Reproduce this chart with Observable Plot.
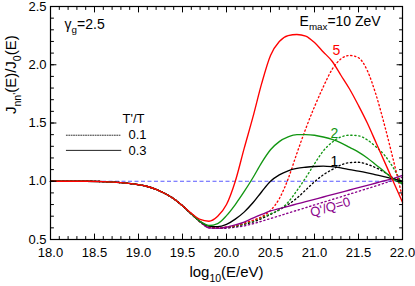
<!DOCTYPE html>
<html>
<head>
<meta charset="utf-8">
<script src="https://cdn.jsdelivr.net/npm/d3@7"></script>
<script src="https://cdn.jsdelivr.net/npm/@observablehq/plot@0.6"></script>
<style>
  html, body { margin: 0; padding: 0; background: #fff; }
  #chart svg { display: block; }
</style>
</head>
<body>
<div id="chart"></div>
<script>
// ---------- data ----------
const logE = [18.0,18.2,18.4,18.6,18.8,19.0,19.1,19.2,19.3,19.4,19.5,19.6,19.7,19.8,19.9,
              20.0,20.1,20.2,20.3,20.4,20.5,20.6,20.7,20.8,20.9,21.0,21.1,21.2,21.3,21.4,
              21.5,21.6,21.7,21.8,21.9,22.0];

// T'/T = 0.3 (solid)
const red03    = [1.0,1.0,1.0,0.997,0.988,0.97,0.955,0.93,0.895,0.85,0.79,0.725,0.672,0.657,0.70,
                  0.80,1.0,1.28,1.55,1.84,2.08,2.20,2.25,2.26,2.245,2.19,2.11,2.03,1.91,1.79,
                  1.65,1.50,1.33,1.16,0.99,0.82];
const green03  = [1.0,1.0,1.0,0.997,0.988,0.97,0.955,0.93,0.895,0.85,0.79,0.72,0.655,0.62,0.637,
                  0.705,0.80,0.91,1.03,1.16,1.27,1.34,1.38,1.40,1.40,1.395,1.38,1.36,1.33,1.29,
                  1.25,1.20,1.14,1.08,1.015,0.98];
const black03  = [1.0,1.0,1.0,0.997,0.988,0.97,0.955,0.93,0.895,0.85,0.79,0.72,0.655,0.615,0.61,
                  0.63,0.675,0.735,0.815,0.91,1.0,1.055,1.09,1.11,1.12,1.127,1.13,1.125,1.115,1.10,
                  1.087,1.072,1.055,1.038,1.02,1.0];
const purple03 = [1.0,1.0,1.0,0.997,0.988,0.97,0.955,0.93,0.895,0.85,0.79,0.72,0.652,0.60,0.597,
                  0.605,0.625,0.65,0.683,0.715,0.745,0.765,0.785,0.805,0.825,0.845,0.865,0.885,0.905,0.925,
                  0.945,0.965,0.985,1.005,1.025,1.05];

// T'/T = 0.1 (dotted)
const red01    = [1.0,1.0,1.0,0.997,0.988,0.97,0.955,0.93,0.895,0.85,0.79,0.72,0.652,0.605,0.60,
                  0.607,0.62,0.64,0.665,0.695,0.75,0.85,1.02,1.24,1.45,1.64,1.81,1.96,2.05,2.08,
                  2.06,1.95,1.74,1.47,1.17,0.86];
const green01  = [1.0,1.0,1.0,0.997,0.988,0.97,0.955,0.93,0.895,0.85,0.79,0.72,0.652,0.605,0.60,
                  0.605,0.615,0.635,0.66,0.69,0.72,0.755,0.82,0.92,1.03,1.15,1.26,1.335,1.38,1.395,
                  1.39,1.355,1.295,1.22,1.11,0.97];
const black01  = [1.0,1.0,1.0,0.997,0.988,0.97,0.955,0.93,0.895,0.85,0.79,0.72,0.652,0.605,0.60,
                  0.603,0.612,0.63,0.65,0.68,0.715,0.755,0.80,0.855,0.925,0.995,1.055,1.10,1.14,1.16,
                  1.163,1.145,1.115,1.075,1.025,0.975];
const purple01 = [1.0,1.0,1.0,0.997,0.988,0.97,0.955,0.93,0.895,0.85,0.79,0.72,0.652,0.60,0.595,
                  0.597,0.605,0.617,0.635,0.657,0.68,0.703,0.727,0.75,0.773,0.797,0.82,0.843,0.866,0.89,
                  0.913,0.937,0.96,0.985,1.01,1.035];

const refLevel = [1.0];

const xTicks = [18.0,18.5,19.0,19.5,20.0,20.5,21.0,21.5,22.0];
const yTicks = [0.5,1.0,1.5,2.0,2.5];
const xMinor = d3.range(18.0, 22.0001, 0.1);
const yMinor = d3.range(0.5, 2.5001, 0.1);

const curveLabels = [
  {x: 21.25,  y: 2.125, text: "5", color: "#ff0000"},
  {x: 21.227, y: 1.412, text: "2", color: "#129612"},
  {x: 21.227, y: 1.172, text: "1", color: "#000000"}
];
const qLabel = [{x: 21.18, y: 0.777, text: "Q'/Q=0"}];
const notes = [
  {x: 18.16, y: 2.348, text: "γ_{g}=2.5"},
  {x: 20.83, y: 2.374, text: "E_{max}=10 ZeV"}
];
const legendTitle = [{x: 18.943, y: 1.533, text: "T'/T"}];
const legendText = [
  {x: 18.886, y: 1.395, text: "0.1"},
  {x: 18.886, y: 1.263, text: "0.3"}
];
const legendDotted = [{x: 18.18, y: 1.395}, {x: 18.79, y: 1.395}];
const legendSolid  = [{x: 18.18, y: 1.265}, {x: 18.80, y: 1.265}];

const xLabel = "log_{10}(E/eV)";
const yLabel = "J_{nn'}(E)/J_{0}(E)";

// ---------- helpers ----------
const rows = (arr) => logE.map((x, i) => ({x, y: arr[i]}));
const fmt = d3.format(".1f");
const tickShape = {draw(ctx, l) { ctx.moveTo(0, 0); ctx.lineTo(0, -l); }};
function ticks(values, side, len) {
  const rot = {bottom: 0, top: 180, left: 90, right: -90}[side];
  const ch = (side === "bottom" || side === "top") ? {x: d => d} : {y: d => d};
  return Plot.vector(values, {...ch, frameAnchor: side, rotate: rot, length: len,
    anchor: "start", shape: tickShape, stroke: "black", strokeWidth: 1});
}

const RED = "#ff0000", GREEN = "#129612", BLACK = "#000000", PURPLE = "#8a008a", BLUE = "#5a5aff";
const SW = 1.35, DOT = "1.3,2.7";

const chart = Plot.plot({
  width: 415,
  height: 286,
  marginLeft: 50,
  marginRight: 13,
  marginTop: 6,
  marginBottom: 47,
  style: {fontFamily: "'Liberation Sans', Arial, sans-serif", background: "#fff", color: "#000"},
  x: {domain: [18, 22], axis: null},
  y: {domain: [0.5, 2.5], axis: null},
  marks: [
    Plot.ruleY(refLevel, {stroke: BLUE, strokeWidth: 1, strokeDasharray: "4,2.5"}),
    // dotted T'/T=0.1
    Plot.line(rows(purple01), {x: "x", y: "y", stroke: PURPLE, strokeWidth: SW, strokeDasharray: DOT, curve: "monotone-x"}),
    Plot.line(rows(black01),  {x: "x", y: "y", stroke: BLACK,  strokeWidth: SW, strokeDasharray: DOT, curve: "monotone-x"}),
    Plot.line(rows(green01),  {x: "x", y: "y", stroke: GREEN,  strokeWidth: SW, strokeDasharray: DOT, curve: "monotone-x"}),
    Plot.line(rows(red01),    {x: "x", y: "y", stroke: RED,    strokeWidth: SW, strokeDasharray: DOT, curve: "monotone-x"}),
    // solid T'/T=0.3
    Plot.line(rows(purple03), {x: "x", y: "y", stroke: PURPLE, strokeWidth: SW, curve: "monotone-x"}),
    Plot.line(rows(black03),  {x: "x", y: "y", stroke: BLACK,  strokeWidth: SW, curve: "monotone-x"}),
    Plot.line(rows(green03),  {x: "x", y: "y", stroke: GREEN,  strokeWidth: SW, curve: "monotone-x"}),
    Plot.line(rows(red03),    {x: "x", y: "y", stroke: RED,    strokeWidth: SW, curve: "monotone-x"}),
    // frame and inward ticks on all sides
    Plot.frame({stroke: "black", strokeWidth: 1.2}),
    ticks(xMinor, "bottom", 3), ticks(xTicks, "bottom", 5.5),
    ticks(xMinor, "top", 3),    ticks(xTicks, "top", 5.5),
    ticks(yMinor, "left", 3),   ticks(yTicks, "left", 5.5),
    ticks(yMinor, "right", 3),  ticks(yTicks, "right", 5.5),
    // tick labels
    Plot.text(xTicks, {x: d => d, frameAnchor: "bottom", dy: 13, text: fmt, fontSize: 13, lineAnchor: "middle", fill: "black"}),
    Plot.text(yTicks, {y: d => d, frameAnchor: "left", dx: -4, text: fmt, fontSize: 13, textAnchor: "end", lineAnchor: "middle", fill: "black"}),
    // axis titles
    Plot.text([xLabel], {frameAnchor: "bottom", dy: 33, text: d => d, fontSize: 15, lineAnchor: "middle", fill: "black"}),
    Plot.text([yLabel], {frameAnchor: "left", dx: -39, dy: -9, rotate: -90, text: d => d, fontSize: 15, lineAnchor: "middle", fill: "black"}),
    // annotations
    Plot.text(notes, {x: "x", y: "y", text: "text", fontSize: 14, textAnchor: "start", lineAnchor: "middle", fill: "black"}),
    Plot.text(curveLabels, {x: "x", y: "y", text: "text", fill: "color", fontSize: 14, lineAnchor: "middle"}),
    Plot.text(qLabel, {x: "x", y: "y", text: "text", fill: PURPLE, fontSize: 13, rotate: -16.5, lineAnchor: "middle"}),
    // legend
    Plot.text(legendTitle, {x: "x", y: "y", text: "text", fontSize: 13, lineAnchor: "middle", fill: "black"}),
    Plot.text(legendText, {x: "x", y: "y", text: "text", fontSize: 13, textAnchor: "start", lineAnchor: "middle", fill: "black"}),
    Plot.line(legendDotted, {x: "x", y: "y", stroke: "#333", strokeWidth: 1, strokeDasharray: "1,1.4"}),
    Plot.line(legendSolid, {x: "x", y: "y", stroke: "#222", strokeWidth: 1})
  ]
});

document.getElementById("chart").appendChild(chart);

// subscripts: turn "_{...}" into real subscript tspans
const NS = "http://www.w3.org/2000/svg";
chart.querySelectorAll("text").forEach(t => {
  const s = t.textContent;
  if (!s.includes("_{")) return;
  const fs = parseFloat(getComputedStyle(t).fontSize) || 13;
  const sh = +(fs * 0.3).toFixed(2);
  const parts = s.split(/(_\{[^}]*\})/).filter(p => p.length);
  t.textContent = "";
  let shifted = false;
  for (const p of parts) {
    const ts = document.createElementNS(NS, "tspan");
    if (p.startsWith("_{")) {
      ts.textContent = p.slice(2, -1);
      ts.setAttribute("font-size", (fs * 0.7).toFixed(2));
      ts.setAttribute("dy", sh);
      shifted = true;
    } else {
      ts.textContent = p;
      if (shifted) { ts.setAttribute("dy", -sh); shifted = false; }
    }
    t.appendChild(ts);
  }
});
</script>
</body>
</html>
